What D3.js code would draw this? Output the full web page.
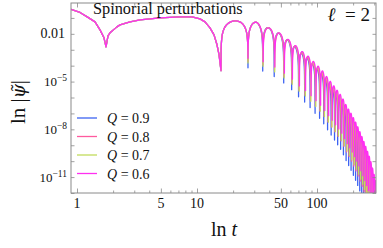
<!DOCTYPE html>
<html><head><meta charset="utf-8">
<script src="https://cdn.jsdelivr.net/npm/d3@7"></script>
<style>
body{margin:0;background:#fff}
svg{display:block}
text{font-family:"Liberation Serif","DejaVu Serif",serif;fill:#111}
</style>
</head><body>
<svg id="chart" width="383" height="248"></svg>
<script>
// ---------------- data ----------------
const seriesNames = ["Q = 0.9", "Q = 0.8", "Q = 0.7", "Q = 0.6"];
const qLabels = ["0.9", "0.8", "0.7", "0.6"];
const seriesColors = ["#3d63f2", "#ff5a9e", "#c2dc5c", "#ff30f0"];

// early part, common to all series (t, |psi|)
const tEarly = [0.891, 1.059, 1.235, 1.413, 1.555, 1.679, 1.745, 1.813, 1.884, 2.154, 2.282, 2.765, 3.35, 4.918, 7.217, 9.085, 10.59, 11.66, 12.83, 13.86, 14.68, 15.26, 15.85];
const vEarly = [0.35, 0.221, 0.1075, 0.0562, 0.0178, 0.00562, 0.00154, 0.0075, 0.01155, 0.0274, 0.0365, 0.0562, 0.075, 0.1, 0.1155, 0.1155, 0.0866, 0.0562, 0.0237, 0.00866, 0.00205, 4.87e-4, 4.87e-5];

// ringdown envelope (peak values) read at these times
const envT = [15.85, 21.2, 31.4, 39.2, 47.4, 55.7, 63.2, 72, 81.9, 90.2, 99.4, 109.3, 120.2, 132.2, 145.6, 160.4, 176.6, 194.5, 214, 246, 278, 310, 330];
const envQ09 = [0.0794, 0.0646, 0.0537, 0.0251, 0.012, 4.68e-3, 2.06e-3, 7.08e-4, 3.24e-4, 1.43e-4, 6.2e-5, 2.8e-5, 9.2e-6, 3.15e-6, 1.06e-6, 3.5e-7, 7.3e-8, 1.77e-8, 3.5e-9, 2.0e-10, 1.08e-11, 3.1e-13, 3.8e-14];
const envQ08 = [0.0794, 0.0646, 0.0537, 0.0251, 0.0123, 4.9e-3, 2.24e-3, 7.94e-4, 3.72e-4, 1.7e-4, 7.6e-5, 3.53e-5, 1.21e-5, 4.36e-6, 1.53e-6, 5.2e-7, 1.15e-7, 3.0e-8, 6.3e-9, 4.1e-10, 2.5e-11, 7.7e-13, 1.04e-13];
const envQ07 = [0.0794, 0.0646, 0.0537, 0.0251, 0.0126, 5.13e-3, 2.43e-3, 8.9e-4, 4.27e-4, 2.02e-4, 9.35e-5, 4.45e-5, 1.59e-5, 6.0e-6, 2.21e-6, 7.9e-7, 1.83e-7, 5.1e-8, 1.16e-8, 8.3e-10, 5.7e-11, 1.95e-12, 2.9e-13];
const envQ06 = [0.0794, 0.0646, 0.0537, 0.0251, 0.0129, 5.37e-3, 2.63e-3, 1.0e-3, 4.9e-4, 2.4e-4, 1.15e-4, 5.6e-5, 2.1e-5, 8.3e-6, 3.2e-6, 1.2e-6, 2.9e-7, 8.7e-8, 2.1e-8, 1.7e-9, 1.3e-10, 4.9e-12, 7.9e-13];

// times of the zeros (dips) of each series
const dipsQ09 = [15.85, 26.6, 35.3, 44.0, 52.8, 61.5, 70.2, 78.9, 87.6, 96.4, 105.1, 113.8, 122.5, 131.2, 140.0, 148.7, 157.4, 166.1, 174.8, 183.6, 192.3, 201.0, 209.7, 218.4, 227.2, 235.9, 244.6, 253.3, 262.0, 270.8, 279.5, 288.2, 296.9, 305.6, 314.4];
const dipsQ08 = [15.85, 26.6, 35.4, 44.2, 53.0, 61.8, 70.6, 79.4, 88.2, 97.0, 105.8, 114.6, 123.4, 132.2, 141.0, 149.8, 158.6, 167.4, 176.2, 185.0, 193.8, 202.6, 211.4, 220.2, 229.0, 237.8, 246.6, 255.4, 264.2, 273.0, 281.8, 290.6, 299.4, 308.2, 317.0];
const dipsQ07 = [15.85, 26.6, 35.5, 44.4, 53.2, 62.1, 71.0, 79.9, 88.8, 97.6, 106.5, 115.4, 124.3, 133.2, 142.0, 150.9, 159.8, 168.7, 177.6, 186.4, 195.3, 204.2, 213.1, 222.0, 230.8, 239.7, 248.6, 257.5, 266.4, 275.2, 284.1, 293.0, 301.9, 310.8, 319.6];
const dipsQ06 = [15.85, 26.6, 35.6, 44.5, 53.5, 62.4, 71.4, 80.3, 89.3, 98.2, 107.2, 116.1, 125.1, 134.0, 143.0, 151.9, 160.9, 169.8, 178.8, 187.7, 196.7, 205.6, 214.6, 223.5, 232.5, 241.4, 250.4, 259.3, 268.3, 277.2, 286.2, 295.1, 304.1, 313.0, 322.0];
// depth of the dips (decades below the envelope)
const dipDepth = [2.9, 2.5, 2.6, 2.3];

const xMajorTicks = [1, 5, 10, 50, 100];
const xMajorLabels = ["1", "5", "10", "50", "100"];
const xMinorTicks = [2, 3, 4, 6, 7, 8, 9, 20, 30, 40, 60, 70, 80, 90, 200, 300];
const yLabelTicks = [1e-2, 1e-5, 1e-8, 1e-11];
const yLabelBase = ["0.01", "10", "10", "10"];
const yLabelExp = ["", "\u22125", "\u22128", "\u221211"];
const yDecadeTicks = [1e-1, 1e-2, 1e-3, 1e-4, 1e-5, 1e-6, 1e-7, 1e-8, 1e-9, 1e-10, 1e-11, 1e-12];

// ---------------- chart ----------------
const L = 71, R = 376, T = 3, B = 193;
const svg = d3.select("#chart");
const x = d3.scaleLog().domain([Math.pow(10, -0.05), Math.pow(10, 299 / 120)]).range([L, R]);
const y = d3.scaleLog().domain([1e-12, Math.pow(10, -0.0625)]).range([B, T]);

svg.append("clipPath").attr("id", "clip")
  .append("rect").attr("x", L).attr("y", T).attr("width", R - L).attr("height", B - T);

const fSamples = [0.004, 0.01, 0.02, 0.035, 0.055, 0.08, 0.12, 0.17, 0.24, 0.32, 0.41, 0.5, 0.59, 0.68, 0.76, 0.83, 0.88, 0.92, 0.945, 0.965, 0.98, 0.99, 0.996];
function buildSeries(env, dips, depth) {
  const envLog = d3.scaleLinear().domain(envT).range(env.map(Math.log10)).clamp(true);
  const eps = Math.pow(10, -depth);
  const pts = tEarly.map((t, i) => [t, vEarly[i]]);
  for (let i = 0; i < dips.length - 1; i++) {
    const a = dips[i], b = dips[i + 1];
    if (i > 0) pts.push([a, Math.pow(10, envLog(a)) * eps]);
    fSamples.forEach(f => {
      const t = a + (b - a) * f;
      const s = Math.sin(Math.PI * f);
      pts.push([t, Math.pow(10, envLog(t)) * Math.sqrt(s * s + eps * eps)]);
    });
  }
  return pts;
}
const envs = [envQ09, envQ08, envQ07, envQ06];
const dips = [dipsQ09, dipsQ08, dipsQ07, dipsQ06];
const line = d3.line().x(d => x(d[0])).y(d => y(d[1]));

const g = svg.append("g").attr("clip-path", "url(#clip)");
seriesNames.forEach((n, i) => {
  g.append("path").datum(buildSeries(envs[i], dips[i], dipDepth[i]))
    .attr("d", line).attr("fill", "none")
    .attr("stroke", seriesColors[i]).attr("stroke-width", 1.3)
    .attr("stroke-linejoin", "round");
});

// frame and ticks
const frameColor = "#8a8a8a";
function styleAxis(sel) {
  sel.select(".domain").remove();
  sel.selectAll(".tick line").attr("stroke", frameColor).attr("stroke-width", 0.8);
  sel.selectAll(".tick text").remove();
}
svg.append("g").attr("transform", `translate(0,${B})`)
  .call(d3.axisBottom(x).tickValues(xMajorTicks).tickSize(-4.5)).call(styleAxis);
svg.append("g").attr("transform", `translate(0,${B})`)
  .call(d3.axisBottom(x).tickValues(xMinorTicks).tickSize(-2.5)).call(styleAxis);
svg.append("g").attr("transform", `translate(0,${T})`)
  .call(d3.axisTop(x).tickValues(xMajorTicks).tickSize(-4.5)).call(styleAxis);
svg.append("g").attr("transform", `translate(0,${T})`)
  .call(d3.axisTop(x).tickValues(xMinorTicks).tickSize(-2.5)).call(styleAxis);
svg.append("g").attr("transform", `translate(${L},0)`)
  .call(d3.axisLeft(y).tickValues(yDecadeTicks).tickSize(-3.5)).call(styleAxis);
svg.append("g").attr("transform", `translate(${R},0)`)
  .call(d3.axisRight(y).tickValues(yDecadeTicks).tickSize(-3.5)).call(styleAxis);
svg.append("rect").attr("x", L).attr("y", T).attr("width", R - L).attr("height", B - T)
  .attr("fill", "none").attr("stroke", frameColor).attr("stroke-width", 1);

// tick labels
svg.selectAll(".xl").data(xMajorTicks).join("text")
  .attr("x", d => x(d)).attr("y", 208).attr("text-anchor", "middle")
  .attr("font-size", 14).text((d, i) => xMajorLabels[i]);
yLabelTicks.forEach((v, i) => {
  const t = svg.append("text").attr("x", yLabelExp[i] ? 67 : 65).attr("y", y(v) + 4.6)
    .attr("text-anchor", "end").attr("font-size", yLabelExp[i] ? 13 : 14);
  t.append("tspan").text(yLabelBase[i]);
  if (yLabelExp[i]) t.append("tspan").attr("dy", -5).attr("font-size", 9.5).text(yLabelExp[i]);
});

// axis titles
const xt = svg.append("text").attr("x", 224).attr("y", 236).attr("text-anchor", "middle").attr("font-size", 20);
xt.append("tspan").text("ln ");
xt.append("tspan").attr("font-style", "italic").text("t");
const yt = svg.append("text").attr("transform", "translate(25,102) rotate(-90)")
  .attr("text-anchor", "middle").attr("font-size", 21);
yt.append("tspan").text("ln |");
yt.append("tspan").attr("font-style", "italic").attr("font-family", "DejaVu Serif").attr("font-size", 18).text("\u03C8\u0303");
yt.append("tspan").text("|");

// annotations
svg.append("text").attr("x", 93).attr("y", 14).attr("font-size", 16.3).text("Spinorial perturbations");
const lt = svg.append("text").attr("x", 370).attr("y", 21).attr("text-anchor", "end").attr("font-size", 19);
lt.append("tspan").attr("font-style", "italic").text("\u2113");
lt.append("tspan").text("\u2009=\u20092").attr("xml:space", "preserve");
lt.select("tspan:last-child").text(" \u00A0=\u00A02");

// legend
const legY = [118, 136.5, 155, 173.5];
seriesNames.forEach((n, i) => {
  svg.append("line").attr("x1", 77).attr("x2", 97).attr("y1", legY[i]).attr("y2", legY[i])
    .attr("stroke", seriesColors[i]).attr("stroke-width", 1.3);
  const t = svg.append("text").attr("x", 107).attr("y", legY[i] + 5).attr("font-size", 14);
  t.append("tspan").attr("font-style", "italic").text("Q");
  t.append("tspan").text(" = " + qLabels[i]);
});
</script>
</body></html>
